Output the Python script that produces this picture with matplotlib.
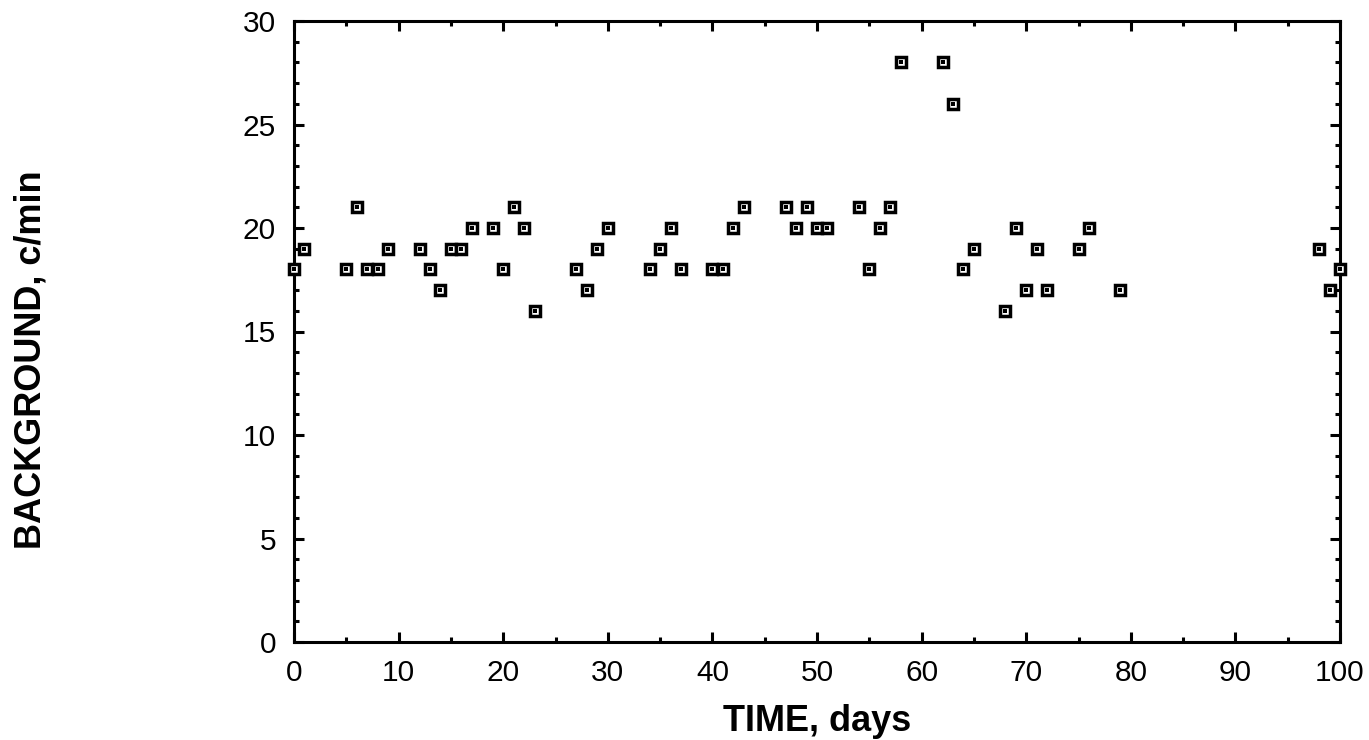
import matplotlib
matplotlib.use("Agg")
import matplotlib.pyplot as plt
from matplotlib.ticker import MultipleLocator

matplotlib.rcParams.update({
    'font.family': ['Liberation Sans', 'DejaVu Sans'],
})

time_days = [0, 1, 5, 6, 7, 8, 9, 12, 13, 14, 15, 16, 17, 19, 20, 21, 22, 23,
             27, 28, 29, 30, 34, 35, 36, 37, 40, 41, 42, 43, 47, 48, 49, 50, 51,
             54, 55, 56, 57, 58, 62, 63, 64, 65, 68, 69, 70, 71, 72, 75, 76, 79,
             98, 99, 100]
background = [18, 19, 18, 21, 18, 18, 19, 19, 18, 17, 19, 19, 20, 20, 18, 21, 20, 16,
              18, 17, 19, 20, 18, 19, 20, 18, 18, 18, 20, 21, 21, 20, 21, 20, 20,
              21, 18, 20, 21, 28, 28, 26, 18, 19, 16, 20, 17, 19, 17, 19, 20, 17,
              19, 17, 18]

fig = plt.figure(figsize=(13.69, 7.40), dpi=100)
ax = fig.add_axes([294/1369, 1 - 642/740, 1046/1369, 621/740])

# outer hollow square + small dot in the middle
ax.plot(time_days, background, linestyle='none', marker='s', markersize=7.6,
        markerfacecolor='white', markeredgecolor='black', markeredgewidth=2.5,
        clip_on=False, zorder=3)
ax.plot(time_days, background, linestyle='none', marker='s', markersize=2.3,
        markerfacecolor='black', markeredgecolor='black', markeredgewidth=0,
        clip_on=False, zorder=4)

ax.set_xlim(0, 100)
ax.set_ylim(0, 30)
ax.xaxis.set_major_locator(MultipleLocator(10))
ax.xaxis.set_minor_locator(MultipleLocator(5))
ax.yaxis.set_major_locator(MultipleLocator(5))
ax.yaxis.set_minor_locator(MultipleLocator(1))

for s in ax.spines.values():
    s.set_linewidth(2.2)
ax.tick_params(which='both', direction='in', top=True, right=True,
               width=2.2, labelsize=21.5)
ax.tick_params(axis='x', pad=12)
ax.tick_params(axis='y', pad=13)
ax.tick_params(which='major', length=7.5)
ax.tick_params(which='minor', length=3.8)

ax.set_xlabel('TIME, days', fontsize=26, fontweight='bold')
ax.set_ylabel('BACKGROUND, c/min', fontsize=26, fontweight='bold')
ax.xaxis.set_label_coords(0.5, -0.1)
ax.yaxis.set_label_coords(-0.235, 0.454)

fig.savefig('out.png', dpi=100)
